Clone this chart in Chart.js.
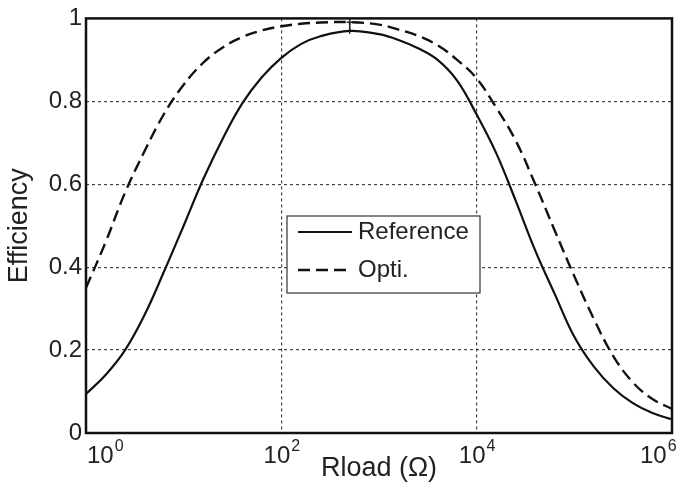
<!DOCTYPE html>
<html>
<head>
<meta charset="utf-8">
<script src="https://cdn.jsdelivr.net/npm/chart.js@4"></script>
<style>
  html, body { margin: 0; padding: 0; background: #fff; }
  #wrap { width: 679px; height: 487px; }
</style>
</head>
<body>
<div id="wrap"><canvas id="myChart" width="679" height="487"></canvas></div>
<script>
'use strict'

// load resistance (ohm) and efficiencies
const rload = [1, 1.585, 2.512, 3.981, 6.31, 10, 15.85, 25.12, 39.81, 63.1,
  100, 158.5, 251.2, 501.2, 1000, 1585, 2512, 3981, 6310,
  10000, 15850, 25120, 39810, 63100, 100000, 158500, 251200, 398100, 631000, 1000000];
const reference = [0.094, 0.14, 0.20, 0.285, 0.39, 0.50, 0.612, 0.71, 0.795, 0.858,
  0.905, 0.938, 0.957, 0.970, 0.962, 0.948, 0.928, 0.90, 0.85,
  0.768, 0.675, 0.56, 0.44, 0.335, 0.232, 0.16, 0.108, 0.072, 0.048, 0.033];
const opti = [0.35, 0.46, 0.58, 0.68, 0.77, 0.84, 0.893, 0.93, 0.955, 0.971,
  0.981, 0.987, 0.990, 0.991, 0.985, 0.973, 0.958, 0.935, 0.90,
  0.855, 0.785, 0.705, 0.60, 0.488, 0.378, 0.275, 0.185, 0.122, 0.082, 0.058];

// peak markers
const peakR = [501.2, 501.2];
const peakEff = [0.991, 0.970];

const xTicks = [1, 100, 10000, 1000000];
const xTickExp = ['0', '2', '4', '6'];
const yTicks = [0, 0.2, 0.4, 0.6, 0.8, 1];

const FONT = '"Liberation Sans", Arial, sans-serif';

function pts(xs, ys) {
  return xs.map((x, i) => ({x: x, y: ys[i]}));
}

// frame, x tick labels and legend box
const extras = {
  id: 'extras',
  afterDraw(chart) {
    const ctx = chart.ctx;
    const ca = chart.chartArea;
    const xs = chart.scales.x;
    ctx.save();
    ctx.strokeStyle = '#111';
    ctx.lineWidth = 2.5;
    ctx.strokeRect(ca.left, ca.top, ca.right - ca.left, ca.bottom - ca.top);

    // x tick labels 10^n
    ctx.fillStyle = '#222';
    ctx.textBaseline = 'alphabetic';
    xTicks.forEach((v, i) => {
      const px = xs.getPixelForValue(v);
      ctx.font = '24px ' + FONT;
      const w1 = ctx.measureText('10').width;
      ctx.font = '16px ' + FONT;
      const w2 = ctx.measureText(xTickExp[i]).width;
      let x0 = px - (w1 + w2) / 2;
      if (i === 0) x0 = px + 1;
      if (i === xTicks.length - 1) x0 = px - 32;
      ctx.font = '24px ' + FONT;
      ctx.textAlign = 'left';
      ctx.fillText('10', x0, ca.bottom + 30);
      ctx.font = '16px ' + FONT;
      ctx.fillText(xTickExp[i], x0 + w1 + 1, ca.bottom + 18);
    });

    // legend
    const lx = 287, ly = 216, lw = 193, lh = 77;
    ctx.fillStyle = '#fff';
    ctx.fillRect(lx, ly, lw, lh);
    ctx.strokeStyle = '#333';
    ctx.lineWidth = 1.2;
    ctx.strokeRect(lx, ly, lw, lh);
    const items = chart.data.datasets.filter(d => d.label);
    items.forEach((d, i) => {
      const y = ly + 16 + i * 38;
      ctx.strokeStyle = d.borderColor;
      ctx.lineWidth = d.borderWidth;
      ctx.setLineDash(d.borderDash || []);
      ctx.beginPath();
      ctx.moveTo(lx + 11, y);
      ctx.lineTo(lx + 65, y);
      ctx.stroke();
      ctx.setLineDash([]);
      ctx.fillStyle = '#222';
      ctx.font = '24px ' + FONT;
      ctx.textAlign = 'left';
      ctx.textBaseline = 'middle';
      ctx.fillText(d.label, lx + 71, y);
    });
    ctx.restore();
  }
};

const data = {
  datasets: [
    {
      label: 'Reference',
      data: pts(rload, reference),
      borderColor: '#111',
      borderWidth: 2.2,
      pointRadius: 0,
      tension: 0.4,
      fill: false
    },
    {
      label: 'Opti.',
      data: pts(rload, opti),
      borderColor: '#111',
      borderWidth: 2.4,
      borderDash: [12, 6],
      pointRadius: 0,
      tension: 0.4,
      fill: false
    },
    {
      label: '',
      data: pts(peakR, peakEff),
      borderColor: '#222',
      borderWidth: 1.5,
      pointStyle: 'cross',
      pointRadius: 3,
      pointBorderWidth: 1.5,
      showLine: true
    }
  ]
};

const config = {
  type: 'line',
  data: data,
  plugins: [extras],
  options: {
    responsive: false,
    animation: false,
    events: [],
    layout: { padding: { top: 8, right: 7 } },
    plugins: { legend: { display: false }, tooltip: { enabled: false } },
    scales: {
      x: {
        type: 'logarithmic',
        min: 1,
        max: 1000000,
        afterBuildTicks(scale) {
          scale.ticks = xTicks.map(v => ({value: v}));
        },
        afterFit(scale) { scale.height = 54; },
        ticks: { display: false },
        grid: {
          drawTicks: false,
          color: c => (c.tick && (c.tick.value === 100 || c.tick.value === 10000)) ? '#444' : 'rgba(0,0,0,0)',
          lineWidth: 1.2
        },
        border: { display: false, dash: [3, 3] },
        title: {
          display: true,
          text: 'Rload (\u03a9)',
          color: '#222',
          font: { family: FONT, size: 27 },
          padding: { top: 0, bottom: 2 }
        }
      },
      y: {
        min: 0,
        max: 1,
        afterBuildTicks(scale) {
          scale.ticks = yTicks.map(v => ({value: v}));
        },
        afterFit(scale) { scale.width = 86; },
        ticks: {
          color: '#222',
          font: { family: FONT, size: 24 },
          padding: 4,
          callback: v => (v === 0 || v === 1) ? String(v) : v.toFixed(1)
        },
        grid: {
          drawTicks: false,
          color: c => (c.tick && c.tick.value > 0 && c.tick.value < 1) ? '#444' : 'rgba(0,0,0,0)',
          lineWidth: 1.2
        },
        border: { display: false, dash: [3, 3] },
        title: {
          display: true,
          text: 'Efficiency',
          color: '#222',
          font: { family: FONT, size: 27 },
          padding: { top: 3, bottom: 0 }
        }
      }
    }
  }
};

const myChart = new Chart(document.getElementById('myChart'), config);
</script>
</body>
</html>
